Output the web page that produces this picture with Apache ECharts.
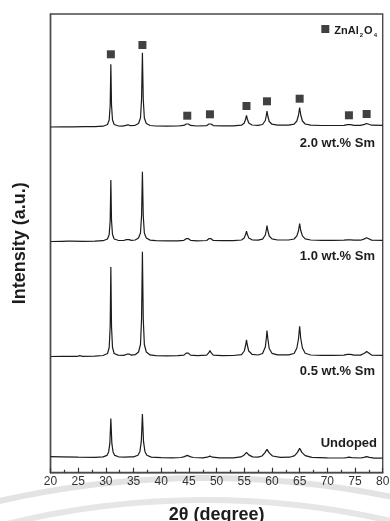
<!DOCTYPE html>
<html>
<head>
<meta charset="utf-8">
<style>
  html, body { margin: 0; padding: 0; background: #fff; }
  #chart { width: 390px; height: 521px; }
</style>
<script src="https://cdn.jsdelivr.net/npm/echarts@6/dist/echarts.min.js"></script>
</head>
<body>
<div id="chart"></div>
<script>
// XRD patterns of ZnAl2O4 samples, [2theta, intensity] (a.u.), each trace stacked on its own baseline
const undoped = [[20,1.8],[22,1.6],[25,1.3],[28,1.1],[29.5,1.5],[30.2,3],[30.5,6.5],[30.72,15],[30.9,40],[31.08,15],[31.3,6.5],[31.6,3],[32.3,1.6],[33.5,1.2],[34.2,1.6],[35,1.5],[35.8,3.2],[36.15,7],[36.4,17],[36.6,44.3],[36.8,17],[37.05,7],[37.4,3.2],[38.2,1.3],[40,0.8],[42,0.6],[43.6,0.9],[44.2,1.8],[44.7,3],[45.2,1.8],[45.8,0.9],[47.5,0.6],[48.3,1.2],[48.8,2.3],[49.3,1.2],[50.5,0.6],[53,0.6],[54.4,1.5],[55,3.5],[55.4,6],[55.8,3.5],[56.5,1.5],[57.5,1.3],[58.2,2.4],[58.7,5.5],[59.1,9],[59.5,5.5],[60.1,2.4],[61.5,1],[63.2,1.2],[64.1,2.8],[64.6,6],[65,10],[65.4,6],[66,2.8],[67.2,1],[70,0.5],[73,0.4],[73.5,0.8],[73.9,1.2],[74.4,0.8],[76,0.4],[76.6,1],[77.1,1.8],[77.6,1],[78.5,0.3],[80,0.2]];

const sm05 = [[20,0],[22,0.2],[24.9,0.2],[25.3,0.9],[25.7,0.2],[28,0.4],[29.5,1],[30.3,3],[30.6,9],[30.78,30],[30.9,89.5],[31.02,30],[31.2,9],[31.5,3],[32.2,1.4],[33.2,1.1],[33.8,2.3],[34.2,2.5],[34.6,1.4],[35.3,1.8],[35.9,4.5],[36.25,12],[36.45,38],[36.6,104.8],[36.75,38],[36.95,12],[37.3,4.5],[38,1.6],[39,0.9],[41,0.7],[43,0.8],[44.1,1.4],[44.5,3.4],[44.7,5.3],[44.9,3.4],[45.3,1.4],[46.5,0.8],[48.2,1.3],[48.6,3.8],[48.8,6],[49,3.8],[49.4,1.3],[51,0.9],[53,1],[54.5,1.8],[55,5.5],[55.25,11.5],[55.4,16.7],[55.55,11.5],[55.8,5.5],[56.4,2.2],[57.5,1.5],[58.3,3],[58.8,9.5],[59,19],[59.1,26],[59.25,18],[59.5,8],[60,3.2],[61,1.6],[63,1.6],[64,3],[64.5,8.5],[64.8,18],[65,30.3],[65.2,18],[65.5,8.5],[66,3.2],[67,1.5],[69,1.2],[71,1.2],[73,1.4],[73.6,2.2],[73.9,3.3],[74.2,2.2],[74.8,1.3],[76,1.4],[76.7,3.3],[77.1,5],[77.4,3.3],[78,1.4],[80,1.1]];

const sm10 = [[20,0],[22,0.2],[23.1,0.3],[23.4,1.3],[23.7,0.3],[26,0.2],[28,0.4],[29.5,0.8],[30.3,2.5],[30.6,7],[30.78,21],[30.9,61.5],[31.02,21],[31.2,7],[31.5,2.5],[32.2,1.2],[33.2,1],[33.7,1.8],[34.2,1.8],[34.6,1.2],[35.3,1.5],[35.9,3.5],[36.25,8.5],[36.45,26],[36.6,69.8],[36.75,26],[36.95,8.5],[37.3,3.5],[38,1.4],[39,0.8],[41,0.6],[43,0.7],[44.1,1.2],[44.5,2.8],[44.7,4.3],[44.9,2.8],[45.3,1.2],[46.5,0.7],[48.2,1],[48.6,2.8],[48.8,4.3],[49,2.8],[49.4,1.1],[51,0.8],[53,0.9],[54.5,1.5],[55,3.6],[55.25,7.2],[55.4,10.3],[55.55,7.2],[55.8,3.6],[56.4,1.7],[57.5,1.3],[58.3,2.4],[58.8,6.5],[59,12],[59.1,16],[59.25,11],[59.5,5.5],[60,2.6],[61,1.5],[63,1.5],[64,2.5],[64.5,5.6],[64.8,11],[65,18],[65.2,11],[65.5,5.6],[66,2.7],[67,1.5],[69,1.2],[71,1.2],[73,1.3],[73.6,1.7],[73.9,2.2],[74.2,1.7],[74.8,1.3],[76,1.3],[76.7,2.6],[77.1,3.7],[77.4,2.6],[78,1.4],[80,1.2]];

const sm20 = [[20,0],[22,0.2],[24,0.1],[26,0.3],[28,0.4],[29.5,0.8],[30.3,2.5],[30.6,7],[30.78,22],[30.9,62.7],[31.02,22],[31.2,7],[31.5,2.5],[32.2,1.2],[33,0.9],[33.6,1.6],[34,2.2],[34.4,1.4],[35.2,1.5],[35.9,3.5],[36.25,9],[36.45,28],[36.6,74.3],[36.75,28],[36.95,9],[37.3,3.5],[38,1.5],[39,1],[41,0.9],[43,1],[44.1,1.6],[44.5,3],[44.7,4.5],[44.9,3],[45.3,1.6],[46.5,1],[48.2,1.3],[48.6,3],[48.8,4.5],[49,3],[49.4,1.4],[51,1.1],[53,1.2],[54.5,1.8],[55,4],[55.25,8],[55.4,11.5],[55.55,8],[55.8,4],[56.4,2],[57.5,1.6],[58.3,2.5],[58.8,6.5],[59,12],[59.1,16],[59.25,11],[59.5,5.5],[60,2.8],[61,1.8],[63,1.8],[64,2.8],[64.5,6],[64.8,12],[65,19.5],[65.2,12],[65.5,6],[66,3],[67,1.8],[69,1.5],[71,1.5],[73,1.7],[73.6,2.3],[73.9,3],[74.2,2.3],[74.8,1.7],[76,1.7],[76.7,2.6],[77.1,3.5],[77.4,2.6],[78,1.8],[80,1.6]];

// Vertical stacking offset of each trace (same a.u. scale)
const sampleNames = ['Undoped', '0.5 wt.% Sm', '1.0 wt.% Sm', '2.0 wt.% Sm'];
const sampleOffsets = [14.3, 116.2, 231.2, 345.7];

// ZnAl2O4 reflections marked above the 2.0 wt.% Sm trace (height above that trace's baseline)
const spinelPeaks = [30.9, 36.6, 44.7, 48.8, 55.4, 59.1, 65.0, 73.9, 77.1];
const spinelMarkHeights = [72.7, 82, 11.3, 12.7, 21, 25.7, 28.3, 11.7, 13];

const xTicks = [20, 25, 30, 35, 40, 45, 50, 55, 60, 65, 70, 75, 80];

const traces = [undoped, sm05, sm10, sm20];
const FONT = '"Liberation Sans", Arial, sans-serif';
const INK = '#1c1c1c';

const lineSeries = traces.map((pts, i) => ({
  name: sampleNames[i],
  type: 'line',
  data: pts.map(p => [p[0], p[1] + sampleOffsets[i]]),
  showSymbol: false,
  symbol: 'none',
  smooth: false,
  lineStyle: { color: INK, width: 1.2 },
  z: 3,
  silent: true
}));

const markerSeries = {
  name: 'ZnAl2O4',
  type: 'scatter',
  symbol: 'rect',
  symbolSize: 8,
  itemStyle: { color: '#111' },
  data: spinelPeaks.map((x, i) => [x, spinelMarkHeights[i] + sampleOffsets[3]]),
  z: 4,
  silent: true
};

const chart = echarts.init(document.getElementById('chart'), null, { renderer: 'canvas' });

// sample labels sit at the right, just below each trace's top region
const labelY = [443.3, 371.7, 256.7, 143.3];
const labelRight = [377, 375, 375, 375];

chart.setOption({
  animation: false,
  backgroundColor: '#fff',
  grid: {
    left: 50.5, right: 7.3, top: 14, bottom: 48.3,
    containLabel: false,
    outerBoundsMode: 'none',
    show: true, borderColor: '#4a4a4a', borderWidth: 1.4, backgroundColor: 'transparent'
  },
  legend: {
    data: [{ name: 'ZnAl2O4', icon: 'rect' }],
    right: 8, top: 20,
    itemWidth: 8, itemHeight: 8,
    selectedMode: false,
    formatter: () => '{b|ZnAl}{s|2}{b|O}{s|4}',
    textStyle: {
      rich: {
        b: { fontFamily: FONT, fontWeight: 'bold', fontSize: 11, color: INK, padding: [4, 0, 0, 0] },
        s: { fontFamily: FONT, fontWeight: 'bold', fontSize: 6, color: INK, padding: [13, 1, 0, 1] }
      }
    }
  },
  xAxis: {
    type: 'value',
    min: 20, max: 80, interval: 5,
    name: '2θ (degree)',
    nameLocation: 'middle',
    nameGap: 33,
    nameTextStyle: { fontFamily: FONT, fontWeight: 'bold', fontSize: 18, color: INK },
    axisLine: { show: true, lineStyle: { color: '#4a4a4a', width: 1.4 } },
    axisTick: { show: true, inside: true, length: 5, lineStyle: { color: '#333', width: 1.2 } },
    minorTick: { show: true, splitNumber: 2, length: 3, lineStyle: { color: '#333', width: 1.2 } },
    splitLine: { show: false },
    axisLabel: {
      margin: 3, fontFamily: FONT, fontSize: 12, color: '#333',
      formatter: v => (xTicks.indexOf(v) >= 0 ? String(v) : '')
    }
  },
  yAxis: {
    type: 'value',
    min: 0, max: 458.7,
    name: 'Intensity (a.u.)',
    nameLocation: 'middle',
    nameGap: 21,
    nameTextStyle: { fontFamily: FONT, fontWeight: 'bold', fontSize: 18, color: INK },
    axisLine: { show: true, lineStyle: { color: '#4a4a4a', width: 1.4 } },
    axisTick: { show: false },
    axisLabel: { show: false },
    splitLine: { show: false }
  },
  graphic: [
    // faint watermark bands along the bottom edge
    { type: 'arc', z: -10, silent: true,
      shape: { cx: 205, cy: 1408, r: 930, startAngle: -Math.PI / 2 - 0.3, endAngle: -Math.PI / 2 + 0.3 },
      style: { stroke: '#e3e3e3', lineWidth: 6, fill: null } },
    { type: 'arc', z: -10, silent: true,
      shape: { cx: 205, cy: 1330, r: 830, startAngle: -Math.PI / 2 - 0.35, endAngle: -Math.PI / 2 + 0.35 },
      style: { stroke: '#e6e6e6', lineWidth: 6, fill: null } }
  ].concat(sampleNames.map((name, i) => ({
    type: 'text', silent: true, z: 10,
    x: labelRight[i], y: labelY[i],
    style: {
      text: name, align: 'right', verticalAlign: 'middle',
      fontFamily: FONT, fontWeight: 'bold', fontSize: 13, fill: INK
    }
  }))),
  series: lineSeries.concat([markerSeries])
});
</script>
</body>
</html>
